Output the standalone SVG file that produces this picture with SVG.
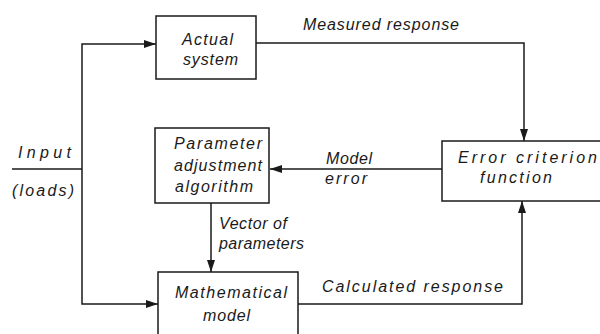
<svg xmlns="http://www.w3.org/2000/svg" width="600" height="334" viewBox="0 0 600 334">
<style>
  .box { fill: none; stroke: #1a1a1a; stroke-width: 1.5; }
  .line { fill: none; stroke: #1a1a1a; stroke-width: 1.5; }
  text { font-family: "Liberation Sans", Arial, sans-serif; font-style: italic; font-size: 16px; fill: #1a1a1a; }
</style>
<defs>
  <marker id="arr" viewBox="0 0 12 8" refX="12" refY="4" markerWidth="12" markerHeight="8" markerUnits="userSpaceOnUse" orient="auto">
    <path d="M0,0 L12,4 L0,8 Z" fill="#1a1a1a"/>
  </marker>
</defs>
<rect width="600" height="334" fill="#ffffff"/>

<g id="connectors">
  <path class="line" d="M12,169 H82"/>
  <path class="line" d="M82,169 V44 H156" marker-end="url(#arr)"/>
  <path class="line" d="M82,169 V304 H158" marker-end="url(#arr)"/>
  <path class="line" d="M256,43 H524 V141" marker-end="url(#arr)"/>
  <path class="line" d="M442,169 H270" marker-end="url(#arr)"/>
  <path class="line" d="M211,203 V272" marker-end="url(#arr)"/>
  <path class="line" d="M298,304 H522 V201" marker-end="url(#arr)"/>
  <text x="303" y="30" textLength="156" lengthAdjust="spacing">Measured response</text>
  <text x="326" y="164" textLength="46" lengthAdjust="spacing">Model</text>
  <text x="325" y="184" textLength="42" lengthAdjust="spacing">error</text>
  <text x="219" y="229" textLength="68" lengthAdjust="spacing">Vector of</text>
  <text x="219" y="249" textLength="85" lengthAdjust="spacing">parameters</text>
  <text x="322" y="292" textLength="181" lengthAdjust="spacing">Calculated response</text>
  <text x="18" y="158" textLength="53" lengthAdjust="spacing">Input</text>
  <text x="12" y="196" textLength="62" lengthAdjust="spacing">(loads)</text>
</g>

<g id="actual-system">
  <rect class="box" x="156" y="16" width="100" height="63"/>
  <text x="182" y="45" textLength="51" lengthAdjust="spacing">Actual</text>
  <text x="183" y="65" textLength="55" lengthAdjust="spacing">system</text>
</g>

<g id="parameter-adjustment">
  <rect class="box" x="155" y="128" width="114" height="75"/>
  <text x="174" y="149" textLength="88" lengthAdjust="spacing">Parameter</text>
  <text x="174" y="171" textLength="88" lengthAdjust="spacing">adjustment</text>
  <text x="175" y="192" textLength="78" lengthAdjust="spacing">algorithm</text>
</g>

<g id="error-criterion">
  <rect class="box" x="442" y="141" width="170" height="60"/>
  <text x="458" y="163" textLength="139" lengthAdjust="spacing">Error criterion</text>
  <text x="480" y="183" textLength="72" lengthAdjust="spacing">function</text>
</g>

<g id="mathematical-model">
  <rect class="box" x="158" y="272" width="140" height="80"/>
  <text x="175" y="298" textLength="112" lengthAdjust="spacing">Mathematical</text>
  <text x="203" y="321" textLength="47" lengthAdjust="spacing">model</text>
</g>
</svg>
